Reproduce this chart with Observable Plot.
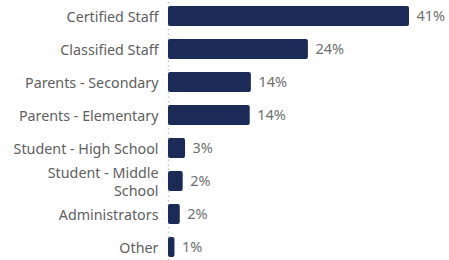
<!DOCTYPE html>
<html>
<head>
<meta charset="utf-8">
<script src="https://cdn.jsdelivr.net/npm/d3@7"></script>
<script src="https://cdn.jsdelivr.net/npm/@observablehq/plot@0.6"></script>
<style>
  html, body { margin: 0; padding: 0; background: #fff; }
</style>
</head>
<body>
<div id="chart"></div>
<script>
const categories = ["Certified Staff", "Classified Staff", "Parents - Secondary", "Parents - Elementary", "Student - High School", "Student - Middle School", "Administrators", "Other"];
const values = [41, 23.8, 14.1, 13.9, 2.9, 2.5, 2.0, 1.1];
const valueLabels = ["41%", "24%", "14%", "14%", "3%", "2%", "2%", "1%"];
const tickLabels = ["Certified Staff", "Classified Staff", "Parents - Secondary", "Parents - Elementary", "Student - High School", "Student - Middle\nSchool", "Administrators", "Other"];

const data = categories.map((c, i) => ({category: c, value: values[i], label: valueLabels[i], tick: tickLabels[i]}));
const tickMap = new Map(data.map(d => [d.category, d.tick]));

const chart = Plot.plot({
  width: 449,
  height: 260,
  marginLeft: 168,
  marginRight: 40,
  marginTop: 2,
  marginBottom: 0,
  style: {fontFamily: "'Noto Sans', sans-serif", fontSize: "14px", background: "#fff"},
  x: {domain: [0, 41], axis: null},
  y: {domain: categories, paddingInner: 0.4, paddingOuter: 0.1, label: null},
  marks: [
    Plot.ruleX([0], {stroke: "#c8c8c8", strokeDasharray: "1.5,3", strokeWidth: 1.5}),
    Plot.barX(data, {x: "value", y: "category", fill: "#1b2a56", rx: 2}),
    Plot.text(data, {x: "value", y: "category", text: "label", textAnchor: "start", dx: 7, fill: "#707070", fontSize: 14.5}),
    Plot.axisY({tickSize: 0, tickPadding: 10, tickFormat: d => tickMap.get(d), fill: "#606060", fontSize: 14.3, lineHeight: 1.25, label: null})
  ]
});
document.getElementById("chart").appendChild(chart);
</script>
</body>
</html>
